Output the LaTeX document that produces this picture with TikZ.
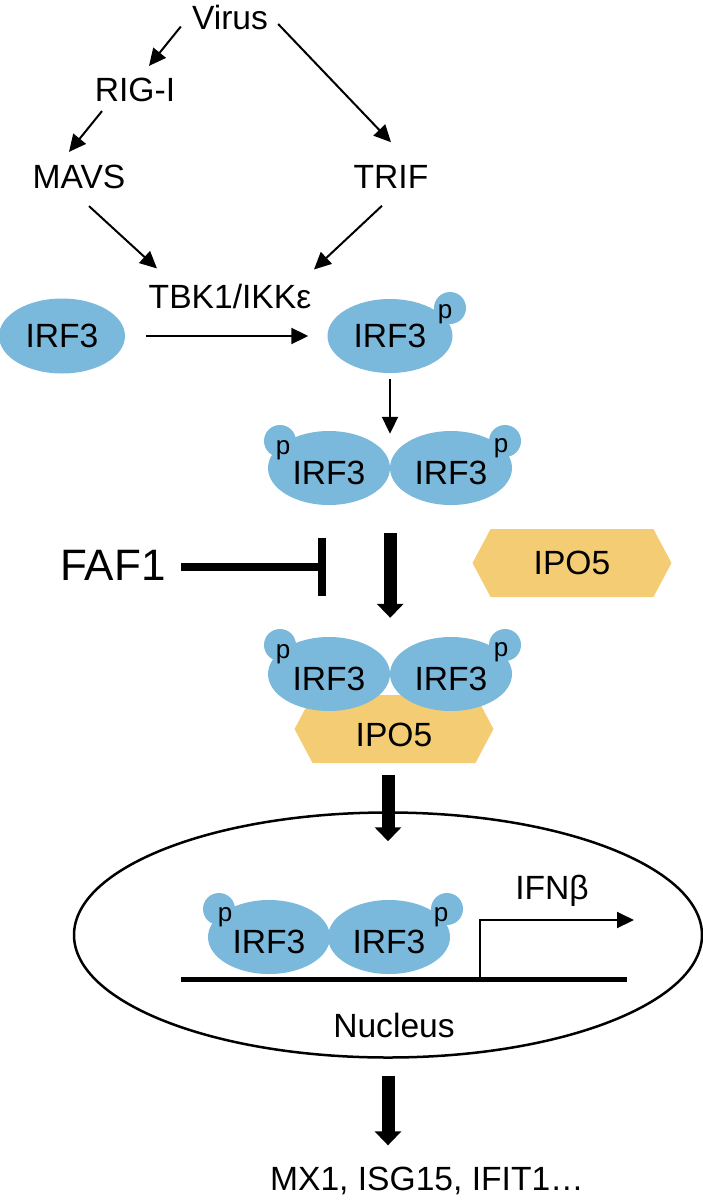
\documentclass[tikz,border=0pt]{standalone}
\usepackage{fontspec}
\setmainfont{Liberation Sans}
\usetikzlibrary{shapes.geometric, shapes.symbols, arrows.meta}
\definecolor{irfblue}{RGB}{122,184,220}
\definecolor{ipoyellow}{RGB}{244,204,115}
\tikzstyle{word} = [inner sep=0, font=\fontsize{33.6}{40}\selectfont]
\tikzstyle{bigword} = [inner sep=0, font=\fontsize{44}{52}\selectfont]
\tikzstyle{blob} = [ellipse, fill=irfblue, minimum width=122pt, minimum height=74pt,
                    inner sep=0, font=\fontsize{33.6}{40}\selectfont]
\tikzstyle{dimblob} = [blob, text height=34pt]
\tikzstyle{bump} = [circle, fill=irfblue, minimum size=32pt, inner sep=0]
\tikzstyle{phos} = [inner sep=0, font=\fontsize{26}{30}\selectfont]
\tikzstyle{importin} = [signal, signal to=west and east, signal pointer angle=124,
                        fill=ipoyellow, minimum width=199pt, minimum height=68pt,
                        inner sep=0, font=\fontsize{33.6}{40}\selectfont]
\tikzstyle{arrow} = [line width=2pt, -{Triangle[length=17pt,width=16pt]}]
\tikzstyle{bigarrow} = [line width=13pt, -{Triangle[length=14pt,width=26pt]}]
\tikzstyle{inhibit} = [line width=8pt, -{Bar[width=58pt]}]
\tikzstyle{dna} = [line width=5pt]

\begin{document}
\begin{tikzpicture}[x=1pt, y=-1pt]
        \useasboundingbox (0,0) rectangle (703,1202);

        %Sensors
        \node (Virus) [word] at (230,17) {Virus};
        \node (RIGI) [word] at (135,90) {RIG-I};
        \node (MAVS) [word] at (79,177) {MAVS};
        \node (TRIF) [word] at (391,177) {TRIF};
        \node (TBK) [word, anchor=base] at (230,308) {TBK1/IKKε};

        %Virus to TBK1
        \draw [arrow] ([shift={(-11,-3)}]Virus.south west) -- ([shift={(14,-12)}]RIGI.north);
        \draw [arrow] ([shift={(-33,9)}]RIGI.south) -- ([shift={(-10,-13)}]MAVS.north);
        \draw [arrow] ([shift={(10,7)}]Virus.east) -- ([shift={(0,-23)}]TRIF.north);
        \draw [arrow] ([shift={(10,17)}]MAVS.south) -- ([shift={(-73,-15)}]TBK.north);
        \draw [arrow] ([shift={(-9,17)}]TRIF.south) -- ([shift={(84,-14)}]TBK.north);

        %IRF3 phosphorylation
        \node (IRF3) [blob, minimum width=126pt, minimum height=75pt] at (62,336) {IRF3};
        \node (pIRF3bump) [bump] at (450,308) {};
        \node (pIRF3) [blob, minimum width=125pt] at (390,336) {IRF3};
        \node (pIRF3p) [phos] at (445,314) {p};
        \draw [arrow, shorten <=21pt, shorten >=19pt] (IRF3) -- (pIRF3);

        %Dimer
        \node (DimA1bump) [bump] at (280,441) {};
        \node (DimA2bump) [bump] at (505,441) {};
        \node (DimA1) [dimblob] at (329,468) {IRF3};
        \node (DimA2) [dimblob] at (451,468) {IRF3};
        \node (DimA1p) [phos] at (283,450) {p};
        \node (DimA2p) [phos] at (501,448) {p};
        \draw [arrow, shorten <=6pt, shorten >=-3pt] (pIRF3.south) -- (pIRF3.south |- DimA1.north);

        %FAF1 and free IPO5
        \node (FAF1) [bigword] at (113,565) {FAF1};
        \coordinate (Block) at (326,567);
        \draw [inhibit, shorten <=15pt] (FAF1.east |- Block) -- (Block);
        \node (IPO5a) [importin] at (572,563) {IPO5};

        %Dimer with IPO5
        \node (IPO5b) [importin, text height=36pt] at (394,729) {IPO5};
        \node (DimB1bump) [bump] at (280,645) {};
        \node (DimB2bump) [bump] at (505,645) {};
        \node (DimB1) [dimblob] at (329,674) {IRF3};
        \node (DimB2) [dimblob] at (451,674) {IRF3};
        \node (DimB1p) [phos] at (283,654) {p};
        \node (DimB2p) [phos] at (501,652) {p};
        \draw [bigarrow, shorten <=28pt, shorten >=19pt] (DimA1.south -| DimA1.east) -- (DimB1.north -| DimB1.east);

        %Nucleus
        \node (Nucleus) [ellipse, draw, line width=2.5pt, minimum width=628pt,
                         minimum height=245pt, inner sep=0] at (388,935) {};
        \draw [bigarrow, shorten <=12pt, shorten >=-30pt] (Nucleus.north |- IPO5b.south) -- (Nucleus.north);
        \node (DimC1bump) [bump] at (219,909) {};
        \node (DimC2bump) [bump] at (447,909) {};
        \node (DimC1) [dimblob] at (269,937) {IRF3};
        \node (DimC2) [dimblob] at (389,937) {IRF3};
        \node (DimC1p) [phos] at (225,917) {p};
        \node (DimC2p) [phos] at (441,917) {p};
        \draw [dna] (181,979) -- (627,979);
        \coordinate (TSS) at (480,979);
        \coordinate (TSSend) at (634,920);
        \draw [arrow] (TSS) |- (TSSend);
        \node (IFNb) [word, anchor=base] at (552,899) {IFNβ};
        \node (NucLabel) [word] at (394,1025) {Nucleus};

        %Target genes
        \node (Genes) [word, anchor=base] at (427,1190) {MX1, ISG15, IFIT1…};
        \draw [bigarrow, shorten <=17pt, shorten >=21pt] (Nucleus.south) -- (Nucleus.south |- Genes.north);

\end{tikzpicture}
\end{document}
